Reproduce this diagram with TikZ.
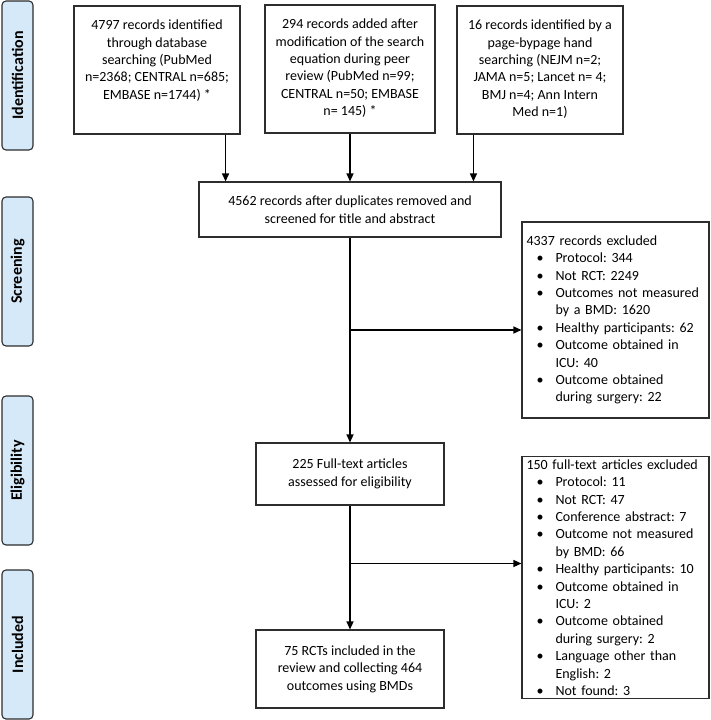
\documentclass[tikz,border=0pt]{standalone}
\usepackage{fontspec}
\setmainfont{Carlito}
\usetikzlibrary{arrows.meta,positioning}
\definecolor{stagefill}{RGB}{214,233,248}
\definecolor{boxline}{RGB}{45,45,45}
\newcommand\bitem[1]{\par\noindent\hangindent=29pt\makebox[29pt][l]{\hspace{10pt}\textbullet}#1\par}
\begin{document}
\frenchspacing
\begin{tikzpicture}[x=1pt,y=-1pt,font=\fontsize{14}{17.4}\selectfont,
	box/.style={draw=boxline,line width=1.1pt,align=center,inner sep=0pt},
	listbox/.style={draw=boxline,line width=1.1pt,align=left,text width=178pt,inner xsep=4.5pt,minimum width=187pt},
	stage/.style={draw=boxline,fill=stagefill,line width=1.1pt,rounded corners=4pt,rotate=90,
		minimum width=149pt,minimum height=31pt,inner sep=0pt,font=\fontsize{16}{18}\selectfont\bfseries},
	arr/.style={draw=black,line width=1.3pt,-{Triangle[width=7pt,length=8pt]}}]
	\useasboundingbox (0,0) rectangle (710,720);
	% stages
	\node[stage](idf) at (17.5,75.5){Identification};
	\node[stage](scr) at (17.5,271.5){Screening};
	\node[stage](elg) at (17.5,470.5){Eligibility};
	\node[stage](inc) at (17.5,644.5){Included};
	% records found
	\node[box,minimum width=166pt,minimum height=128pt](rec1) at (157,70){};
	\node[below=11pt of rec1.north,align=center](rec1txt){4797 records identified\\through database\\searching (PubMed\\n=2368; CENTRAL n=685;\\EMBASE n=1744) *};
	\node[box,minimum width=170pt,minimum height=128pt](rec2) at (350,69){};
	\node[below=11pt of rec2.north,align=center](rec2txt){294 records added after\\modification of the search\\equation during peer\\review (PubMed n=99;\\CENTRAL n=50; EMBASE\\n= 145) *};
	\node[box,minimum width=166pt,minimum height=128pt](rec3) at (540,70){};
	\node[below=11pt of rec3.north,align=center](rec3txt){16 records identified by a\\page-bypage hand\\searching (NEJM n=2;\\JAMA n=5; Lancet n= 4;\\BMJ n=4; Ann Intern\\Med n=1)};
	% main column
	\node[box,minimum width=302pt,minimum height=55pt](merge) at (350,209.5){4562 records after duplicates removed and\\screened for title and abstract};
	\node[box,minimum width=188pt,minimum height=62pt](full) at (350,474){225 Full-text articles\\assessed for eligibility};
	\node[box,minimum width=188pt,minimum height=78pt](incl) at (350,669){75 RCTs included in the\\review and collecting 464\\outcomes using BMDs};
	% exclusions
	\node[listbox,minimum height=196pt](excl1) at (615.5,320){4337 records excluded
		\bitem{Protocol: 344}
		\bitem{Not RCT: 2249}
		\bitem{Outcomes not measured\newline by a BMD: 1620}
		\bitem{Healthy participants: 62}
		\bitem{Outcome obtained in\newline ICU: 40}
		\bitem{Outcome obtained\newline during surgery: 22}};
	\node[listbox,minimum height=239pt](excl2) at (615.5,577.5){150 full-text articles excluded
		\bitem{Protocol: 11}
		\bitem{Not RCT: 47}
		\bitem{Conference abstract: 7}
		\bitem{Outcome not measured\newline by BMD: 66}
		\bitem{Healthy participants: 10}
		\bitem{Outcome obtained in\newline ICU: 2}
		\bitem{Outcome obtained\newline during surgery: 2}
		\bitem{Language other than\newline English: 2}
		\bitem{Not found: 3}};
	\coordinate (excl1in) at ([yshift=-10pt]excl1.west);
	\coordinate (excl2in) at ([yshift=14pt]excl2.west);
	% arrows
	\draw[arr]([xshift=-15pt]rec1.south east)--([xshift=-15pt]rec1.south east|-merge.north);
	\draw[arr](rec2.south)--(rec2.south|-merge.north);
	\draw[arr]([xshift=17pt]rec3.south west)--([xshift=17pt]rec3.south west|-merge.north);
	\draw[arr](merge.south)--(full.north);
	\draw[arr](full.south)--(incl.north);
	\draw[arr](merge.south|-excl1in)--(excl1in);
	\draw[arr](full.south|-excl2in)--(excl2in);
\end{tikzpicture}
\end{document}
